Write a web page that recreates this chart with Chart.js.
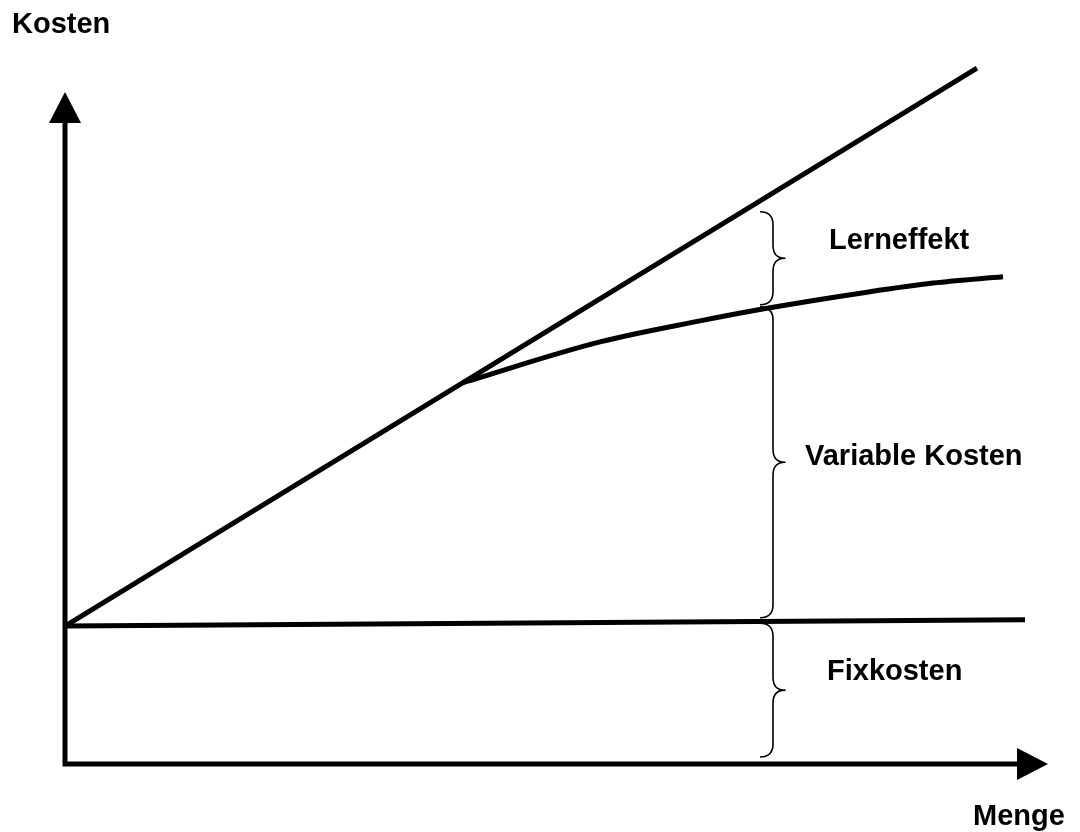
<!DOCTYPE html>
<html>
<head>
<meta charset="utf-8">
<script src="https://cdn.jsdelivr.net/npm/chart.js@4/dist/chart.umd.min.js"></script>
<style>
  body { margin: 0; background: #fff; }
  canvas { display: block; }
</style>
</head>
<body>
<canvas id="kosten" width="1080" height="832"></canvas>
<script>
// units: Menge 0..100 and Kosten 0..100 (chart area)
var axisX = [0, 98.3];          // Menge axis, origin -> arrow tip
var axisY = [0, 96];            // Kosten axis, origin -> arrow tip

var fixX = [0, 96];
var fixY = [19.7, 20.6];

var ohneX = [0, 91.2];          // costs without learning effect
var ohneY = [19.7, 99.4];

var lernX = [39.8, 53.5, 63.5, 70.2, 80.2, 86.8, 93.8];
var lernY = [54.5, 60.3, 63.3, 65.1, 67.4, 68.7, 69.6];

var braceX = 70.8;
var braceTop = [78.9, 65.3, 20.1];
var braceBottom = [65.6, 20.9, 1.0];

var labels = ["Lerneffekt", "Variable Kosten", "Fixkosten"];
var labelX = [76.4, 74.0, 76.2];
var labelY = [73.6, 42.7, 12.0];

var axisTitles = ["Kosten", "Menge"];
var axisTitleX = [-5.3, 90.8];
var axisTitleY = [104.4, -8.7];

function pts(xs, ys) {
  return xs.map(function (x, i) { return { x: x, y: ys[i] }; });
}

var lineStyle = {
  borderColor: "#000",
  borderWidth: 5,
  pointRadius: 0,
  fill: false,
  clip: false
};

var drawing = {
  id: "drawing",
  afterDatasetsDraw: function (chart) {
    var ctx = chart.ctx;
    var xs = chart.scales.x, ys = chart.scales.y;
    var ox = xs.getPixelForValue(axisX[0]);
    var oy = ys.getPixelForValue(axisY[0]);
    var tipX = xs.getPixelForValue(axisX[1]);
    var tipY = ys.getPixelForValue(axisY[1]);
    var head = 31, half = 16;

    ctx.save();
    ctx.strokeStyle = "#000";
    ctx.fillStyle = "#000";
    ctx.lineWidth = 5;
    ctx.lineJoin = "miter";
    ctx.beginPath();
    ctx.moveTo(ox, tipY + head);
    ctx.lineTo(ox, oy);
    ctx.lineTo(tipX - head, oy);
    ctx.stroke();

    ctx.beginPath();
    ctx.moveTo(ox, tipY);
    ctx.lineTo(ox - half, tipY + head);
    ctx.lineTo(ox + half, tipY + head);
    ctx.closePath();
    ctx.fill();

    ctx.beginPath();
    ctx.moveTo(tipX, oy);
    ctx.lineTo(tipX - head, oy - half);
    ctx.lineTo(tipX - head, oy + half);
    ctx.closePath();
    ctx.fill();

    // braces
    ctx.lineWidth = 1.6;
    ctx.lineJoin = "round";
    var bx = xs.getPixelForValue(braceX);
    braceTop.forEach(function (t, i) {
      var top = ys.getPixelForValue(t);
      var bot = ys.getPixelForValue(braceBottom[i]);
      var mid = (top + bot) / 2;
      var r = 13;
      ctx.beginPath();
      ctx.moveTo(bx - r, top);
      ctx.quadraticCurveTo(bx, top, bx, top + r);
      ctx.lineTo(bx, mid - r);
      ctx.quadraticCurveTo(bx, mid, bx + 12, mid);
      ctx.quadraticCurveTo(bx, mid, bx, mid + r);
      ctx.lineTo(bx, bot - r);
      ctx.quadraticCurveTo(bx, bot, bx - r, bot);
      ctx.stroke();
    });

    ctx.font = "bold 29px 'Liberation Sans', Arial, sans-serif";
    ctx.textAlign = "left";
    ctx.textBaseline = "alphabetic";
    labels.forEach(function (t, i) {
      ctx.fillText(t, xs.getPixelForValue(labelX[i]), ys.getPixelForValue(labelY[i]));
    });
    axisTitles.forEach(function (t, i) {
      ctx.fillText(t, xs.getPixelForValue(axisTitleX[i]), ys.getPixelForValue(axisTitleY[i]));
    });
    ctx.restore();
  }
};

var ctx = document.getElementById("kosten");
var chart = new Chart(ctx, {
  type: "line",
  data: {
    datasets: [
      Object.assign({ label: "Fixkosten", data: pts(fixX, fixY) }, lineStyle),
      Object.assign({ label: "Kosten ohne Lerneffekt", data: pts(ohneX, ohneY) }, lineStyle),
      Object.assign({ label: "Kosten mit Lerneffekt", data: pts(lernX, lernY), cubicInterpolationMode: "monotone" }, lineStyle)
    ]
  },
  options: {
    responsive: false,
    animation: false,
    layout: { padding: { left: 65, right: 15, top: 64, bottom: 68 } },
    scales: {
      x: { type: "linear", min: 0, max: 100, display: false },
      y: { type: "linear", min: 0, max: 100, display: false }
    },
    plugins: {
      legend: { display: false },
      tooltip: { enabled: false }
    }
  },
  plugins: [drawing]
});
</script>
</body>
</html>
